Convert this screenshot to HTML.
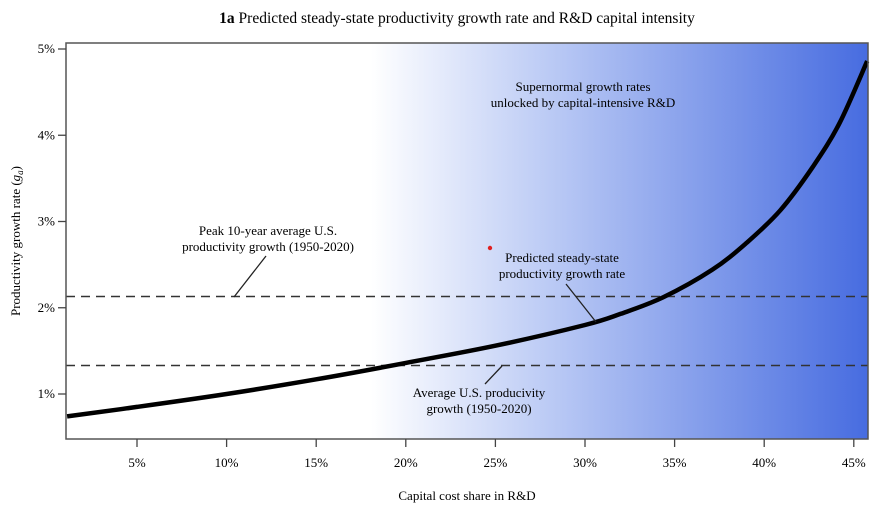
<!DOCTYPE html>
<html><head><meta charset="utf-8">
<style>
body{margin:0;background:#fff;}
svg{display:block;font-family:"Liberation Serif",serif;}
</style></head>
<body>
<svg id="chart" width="885" height="510" viewBox="0 0 885 510">
<defs>
<linearGradient id="bg" x1="0" x2="1" y1="0" y2="0">
<stop offset="0" stop-color="#ffffff"/>
<stop offset="0.38" stop-color="#ffffff"/>
<stop offset="0.6" stop-color="#bccbf5"/>
<stop offset="1" stop-color="#476ce0"/>
</linearGradient>
</defs>
<text x="457" y="23" text-anchor="middle" font-size="15.5"><tspan font-weight="bold">1a</tspan> Predicted steady-state productivity growth rate and R&amp;D capital intensity</text>
<rect x="66" y="43" width="802" height="396" fill="url(#bg)"/>
<g id="marks"></g>
<rect x="66" y="43" width="802" height="396" fill="none" stroke="#555" stroke-width="1.5"/>
<g id="axes"></g>
<text x="467" y="500" text-anchor="middle" font-size="13">Capital cost share in R&amp;D</text>
<text transform="translate(20,241) rotate(-90)" text-anchor="middle" font-size="13">Productivity growth rate (<tspan font-style="italic">g</tspan><tspan font-style="italic" font-size="9" dy="3">a</tspan><tspan dy="-3">)</tspan></text>
<text font-size="13" text-anchor="middle"><tspan x="583" y="91">Supernormal growth rates</tspan><tspan x="583" y="107">unlocked by capital-intensive R&amp;D</tspan></text>
<text font-size="13" text-anchor="middle"><tspan x="268" y="235">Peak 10-year average U.S.</tspan><tspan x="268" y="251">productivity growth (1950-2020)</tspan></text>
<line x1="266" y1="256" x2="234" y2="297" stroke="#222" stroke-width="1.3"/>
<text font-size="13" text-anchor="middle"><tspan x="562" y="262">Predicted steady-state</tspan><tspan x="562" y="278">productivity growth rate</tspan></text>
<line x1="566" y1="284" x2="596" y2="322" stroke="#222" stroke-width="1.3"/>
<circle cx="490" cy="248" r="2.2" fill="#e02020"/>
<text font-size="13" text-anchor="middle"><tspan x="479" y="397">Average U.S. producivity</tspan><tspan x="479" y="413">growth (1950-2020)</tspan></text>
<line x1="485" y1="384" x2="502" y2="366" stroke="#222" stroke-width="1.3"/>
</svg>
<script>
const xTicks=[5,10,15,20,25,30,35,40,45];
const yTicks=[1,2,3,4,5];
const curveX=[1.1,5,10,15,20,25,30,32,34.35,37.1,39,40.9,42.7,44.2,45.75];
const curveY=[0.74,0.85,1.0,1.17,1.36,1.56,1.80,1.93,2.12,2.44,2.75,3.13,3.63,4.14,4.86];
const refLines=[2.13,1.33];
const refNames=['peak-average-line','average-line'];
function xs(v){return 47.4+v*17.92;}
function ys(v){return 480.25-v*86.25;}
const NS='http://www.w3.org/2000/svg';
const marks=document.getElementById('marks'),axes=document.getElementById('axes');
function mk(tag,attrs,parent){const e=document.createElementNS(NS,tag);for(const k in attrs)e.setAttribute(k,attrs[k]);parent.appendChild(e);return e;}
refLines.forEach((v,i)=>{
 const l=mk('line',{x1:66,x2:868,y1:ys(v),y2:ys(v),stroke:'#333','stroke-width':1.5,'stroke-dasharray':'9,6'},marks);
 
 
});
const pts=curveX.map((x,i)=>[xs(x),ys(curveY[i])]);
let d='M'+pts[0][0].toFixed(1)+','+pts[0][1].toFixed(1);
for(let i=0;i<pts.length-1;i++){
 const p0=pts[Math.max(0,i-1)],p1=pts[i],p2=pts[i+1],p3=pts[Math.min(pts.length-1,i+2)];
 const c1=[p1[0]+(p2[0]-p0[0])/6,p1[1]+(p2[1]-p0[1])/6];
 const c2=[p2[0]-(p3[0]-p1[0])/6,p2[1]-(p3[1]-p1[1])/6];
 d+='C'+c1.map(n=>n.toFixed(1)).join(',')+' '+c2.map(n=>n.toFixed(1)).join(',')+' '+p2.map(n=>n.toFixed(1)).join(',');
}
const p=mk('path',{d:d,fill:'none',stroke:'#000','stroke-width':4.5,'stroke-linejoin':'round'},marks);


xTicks.forEach(v=>{
 const t=mk('line',{x1:xs(v),x2:xs(v),y1:439,y2:447,stroke:'#444','stroke-width':1.3},axes);
 
 
 const tx=mk('text',{x:xs(v),y:467,'text-anchor':'middle','font-size':13},axes);
 tx.textContent=v+'%';
 
 
});
yTicks.forEach(v=>{
 const t=mk('line',{x1:58,x2:66,y1:ys(v),y2:ys(v),stroke:'#444','stroke-width':1.3},axes);
 
 
 const tx=mk('text',{x:55,y:ys(v)+4,'text-anchor':'end','font-size':13},axes);
 tx.textContent=v+'%';
 
 
});
</script>
</body></html>
